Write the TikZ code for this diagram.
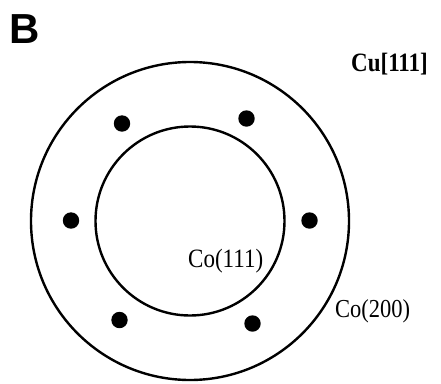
\documentclass[tikz,border=0pt]{standalone}
\usepackage{fontspec}
\usepackage{graphicx}
\setmainfont{Liberation Serif}
\newfontfamily\labsans{Liberation Sans}
\begin{document}
\begin{tikzpicture}[x=1pt,y=-1pt,
  ring/.style={draw=black,line width=2.4pt},
  spot/.style={fill=black},
  lab/.style={inner sep=0pt,anchor=base west}]
\useasboundingbox (0,0) rectangle (441,383);
\coordinate (c) at (190,221);
\draw[ring] (c) circle[radius=159];
\draw[ring] (c) circle[radius=94.5];
\fill[spot] (122,123.5) circle[radius=8.2];
\fill[spot] (246.5,118.5) circle[radius=8.2];
\fill[spot] (71,220.5) circle[radius=8.2];
\fill[spot] (309.5,220.5) circle[radius=8.2];
\fill[spot] (119.5,320) circle[radius=8.2];
\fill[spot] (252.5,323.5) circle[radius=8.2];
\node[lab] (B) at (9,43) {\labsans\fontsize{42}{42}\selectfont\bfseries B};
\node[lab] (cu) at (351,71.5) {\scalebox{1}[1.15]{\fontsize{23}{23}\selectfont\bfseries Cu[111]}};
\node[lab] (co1) at (188,267.3) {\scalebox{1}[1.15]{\fontsize{23}{23}\selectfont Co(111)}};
\node[lab] (co2) at (335,317.7) {\scalebox{1}[1.15]{\fontsize{22.5}{22.5}\selectfont Co(200)}};
\end{tikzpicture}
\end{document}
